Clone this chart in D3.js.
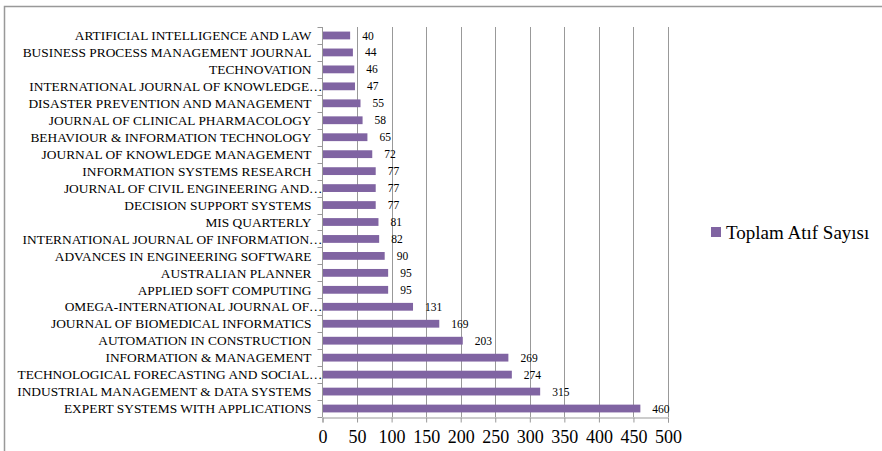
<!DOCTYPE html>
<html>
<head>
<meta charset="utf-8">
<title>Toplam Atif Sayisi</title>
<style>
  body { margin: 0; background: #fff; }
  text { font-family: "Liberation Serif", "Times New Roman", serif; fill: #000; }
</style>
</head>
<body>
<div id="chart"></div>
<script src="https://d3js.org/d3.v7.min.js"></script>
<script>
var journals = [
  "ARTIFICIAL INTELLIGENCE AND LAW",
  "BUSINESS PROCESS MANAGEMENT JOURNAL",
  "TECHNOVATION",
  "INTERNATIONAL JOURNAL OF KNOWLEDGE…",
  "DISASTER PREVENTION AND MANAGEMENT",
  "JOURNAL OF CLINICAL PHARMACOLOGY",
  "BEHAVIOUR & INFORMATION TECHNOLOGY",
  "JOURNAL OF KNOWLEDGE MANAGEMENT",
  "INFORMATION SYSTEMS RESEARCH",
  "JOURNAL OF CIVIL ENGINEERING AND…",
  "DECISION SUPPORT SYSTEMS",
  "MIS QUARTERLY",
  "INTERNATIONAL JOURNAL OF INFORMATION…",
  "ADVANCES IN ENGINEERING SOFTWARE",
  "AUSTRALIAN PLANNER",
  "APPLIED SOFT COMPUTING",
  "OMEGA-INTERNATIONAL JOURNAL OF…",
  "JOURNAL OF BIOMEDICAL INFORMATICS",
  "AUTOMATION IN CONSTRUCTION",
  "INFORMATION & MANAGEMENT",
  "TECHNOLOGICAL FORECASTING AND SOCIAL…",
  "INDUSTRIAL MANAGEMENT & DATA SYSTEMS",
  "EXPERT SYSTEMS WITH APPLICATIONS"
];
var citations = [40, 44, 46, 47, 55, 58, 65, 72, 77, 77, 77, 81, 82, 90, 95, 95, 131, 169, 203, 269, 274, 315, 460];
var xTicks = [0, 50, 100, 150, 200, 250, 300, 350, 400, 450, 500];
var seriesName = "Toplam Atıf Sayısı";

var width = 882, height = 451;
var plotLeft = 322.5, plotRight = 668, plotTop = 27, plotBottom = 417;
var barColor = "#8064A2";
var gridColor = "#999";

var svg = d3.select("#chart").append("svg")
  .attr("width", width)
  .attr("height", height);

// outer frame
svg.append("rect")
  .attr("x", 4.5).attr("y", 6.5)
  .attr("width", width + 10).attr("height", height + 10)
  .attr("fill", "none")
  .attr("stroke", "#999")
  .attr("stroke-width", 1.5);

var x = d3.scaleLinear().domain([0, 500]).range([plotLeft, plotRight]);
var y = d3.scaleBand().domain(journals).range([plotTop, plotBottom]).paddingInner(0.54).paddingOuter(0.27);

// vertical gridlines
svg.append("g").selectAll("line")
  .data(xTicks.slice(1))
  .enter().append("line")
  .attr("x1", function(d) { return Math.round(x(d)) + 0.5; })
  .attr("x2", function(d) { return Math.round(x(d)) + 0.5; })
  .attr("y1", plotTop).attr("y2", plotBottom)
  .attr("stroke", gridColor);

// bars
svg.append("g").selectAll("rect")
  .data(citations)
  .enter().append("rect")
  .attr("x", x(0))
  .attr("y", function(d, i) { return y(journals[i]); })
  .attr("width", function(d) { return x(d) - x(0); })
  .attr("height", y.bandwidth())
  .attr("fill", barColor);

// value labels
svg.append("g").selectAll("text")
  .data(citations)
  .enter().append("text")
  .attr("x", function(d) { return x(d) + 12; })
  .attr("y", function(d, i) { return y(journals[i]) + y.bandwidth() / 2; })
  .attr("dy", "0.35em")
  .style("font-size", "11.5px")
  .text(function(d) { return d; });

// y axis line + ticks at band boundaries
var step = (plotBottom - plotTop) / journals.length;
var yAxis = svg.append("g");
yAxis.append("line")
  .attr("x1", plotLeft).attr("x2", plotLeft)
  .attr("y1", plotTop).attr("y2", plotBottom)
  .attr("stroke", gridColor);
yAxis.selectAll(".tk")
  .data(d3.range(journals.length + 1))
  .enter().append("line")
  .attr("x1", plotLeft - 5).attr("x2", plotLeft)
  .attr("y1", function(i) { return Math.round(plotTop + i * step) + 0.5; })
  .attr("y2", function(i) { return Math.round(plotTop + i * step) + 0.5; })
  .attr("stroke", gridColor);

// category labels
svg.append("g").selectAll("text")
  .data(journals)
  .enter().append("text")
  .attr("x", function(d) { return d.slice(-1) === "…" ? plotLeft : plotLeft - 11; })
  .attr("y", function(d) { return y(d) + y.bandwidth() / 2; })
  .attr("dy", "0.35em")
  .attr("text-anchor", "end")
  .style("font-size", "13.4px")
  .text(function(d) { return d; });

// x axis
var xAxis = svg.append("g").attr("transform", "translate(0," + (plotBottom + 0.5) + ")")
  .call(d3.axisBottom(x).tickValues(xTicks).tickSize(5).tickPadding(8));
xAxis.select(".domain").attr("stroke", gridColor);
xAxis.selectAll(".tick line").attr("stroke", gridColor);
xAxis.selectAll(".tick text")
  .style("font-family", "'Liberation Serif', 'Times New Roman', serif")
  .style("font-size", "18px")
  .attr("fill", "#000");

// legend
var legend = svg.append("g").attr("transform", "translate(711,227)");
legend.append("rect").attr("width", 10).attr("height", 10).attr("fill", barColor);
legend.append("text")
  .attr("x", 15).attr("y", 5)
  .attr("dy", "0.35em")
  .style("font-size", "19px")
  .text(seriesName);
</script>
</body>
</html>
